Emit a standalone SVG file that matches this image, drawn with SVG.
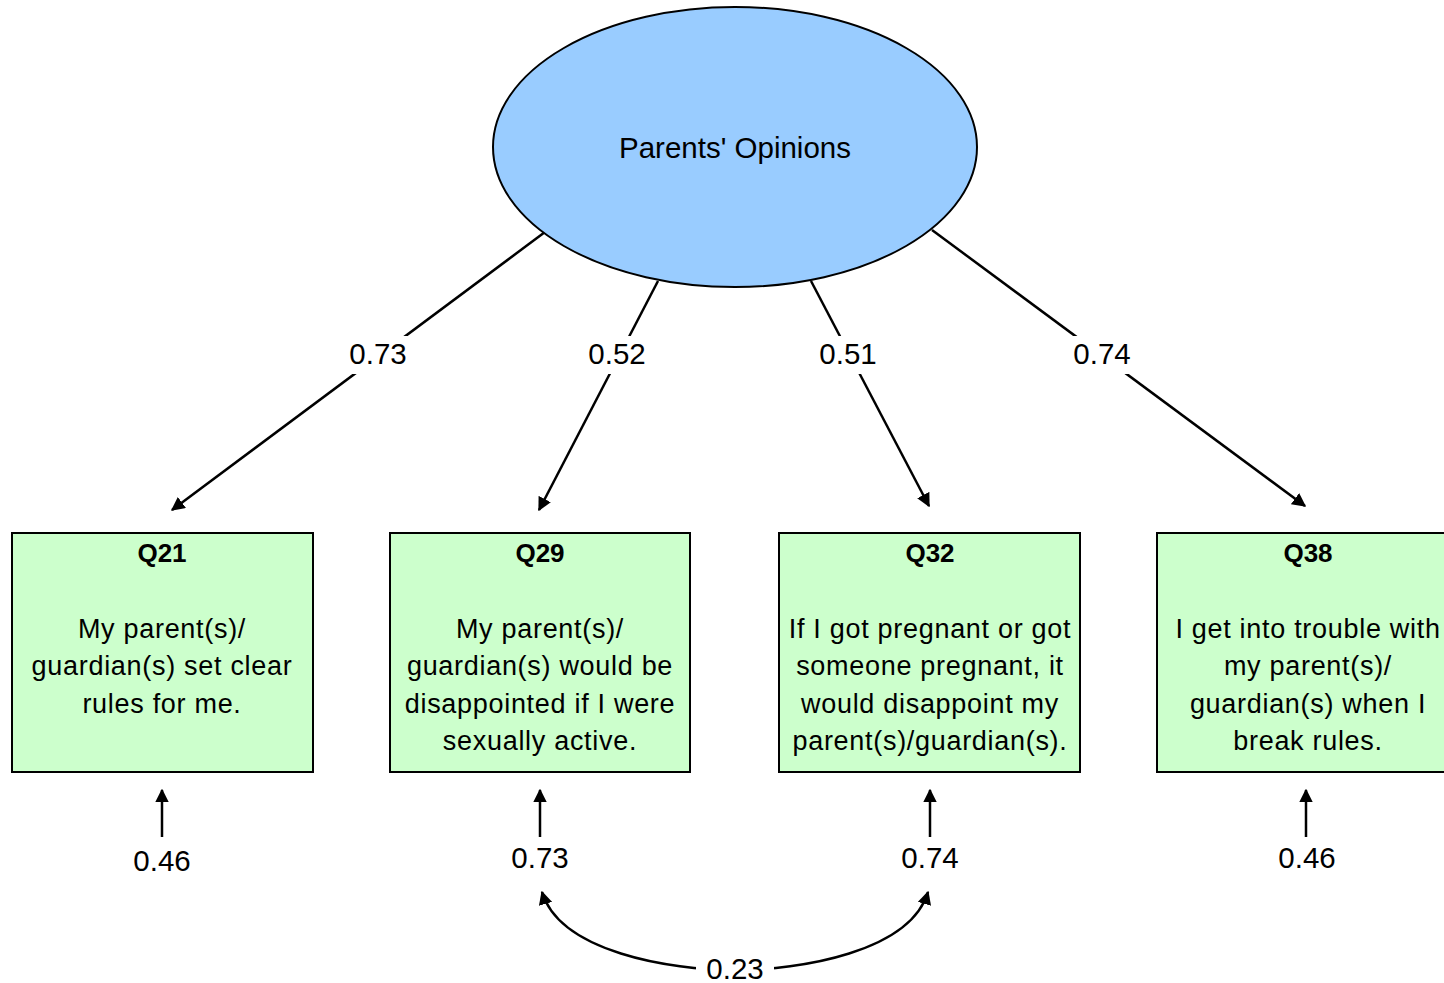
<svg xmlns="http://www.w3.org/2000/svg" width="1444" height="983" viewBox="0 0 1444 983">
<style>
text{font-family:"Liberation Sans",Arial,sans-serif;fill:#000;text-anchor:middle}
.box{fill:#ccffcc;stroke:#000;stroke-width:2}
.lat{fill:#99ccff;stroke:#000;stroke-width:2}
.t{font-size:27px;letter-spacing:0.7px}
.h{font-size:26px;font-weight:bold}
.lbl{font-size:29.5px}
.e{fill:none;stroke:#000;stroke-width:2.5}
.bg{fill:#fff}
</style>
<defs>
<marker id="ah" viewBox="0 0 10 10" refX="9" refY="5" markerWidth="5.5" markerHeight="5.5" orient="auto-start-reverse" markerUnits="strokeWidth">
<path d="M0,0 L10,5 L0,10 z" fill="#000"/>
</marker>
</defs>
<g id="connectors">
<path class="e" d="M545,232 L172,510" marker-end="url(#ah)"/>
<path class="e" d="M658,281 L539,510" marker-end="url(#ah)"/>
<path class="e" d="M811,281 L929,506" marker-end="url(#ah)"/>
<path class="e" d="M932,230 L1305,506" marker-end="url(#ah)"/>
<path class="e" d="M162,837 L162,790" marker-end="url(#ah)"/>
<path class="e" d="M540,837 L540,790" marker-end="url(#ah)"/>
<path class="e" d="M930,837 L930,790" marker-end="url(#ah)"/>
<path class="e" d="M1306,837 L1306,790" marker-end="url(#ah)"/>
<path class="e" d="M542,892 C560,952 670,970 735,970 C800,970 910,952 928,892" marker-start="url(#ah)" marker-end="url(#ah)"/>
<rect class="bg" x="344" y="336" width="68" height="38"/>
<text class="lbl" x="378" y="364">0.73</text>
<rect class="bg" x="583" y="336" width="68" height="38"/>
<text class="lbl" x="617" y="364">0.52</text>
<rect class="bg" x="814" y="336" width="68" height="38"/>
<text class="lbl" x="848" y="364">0.51</text>
<rect class="bg" x="1068" y="336" width="68" height="38"/>
<text class="lbl" x="1102" y="364">0.74</text>
<text class="lbl" x="162" y="871">0.46</text>
<text class="lbl" x="540" y="868">0.73</text>
<text class="lbl" x="930" y="868">0.74</text>
<text class="lbl" x="1307" y="868">0.46</text>
<rect class="bg" x="696" y="954" width="78" height="29"/>
<text class="lbl" x="735" y="979">0.23</text>
</g>
<g id="latent">
<ellipse class="lat" cx="735" cy="147" rx="242" ry="140"/>
<text class="lbl" x="735" y="158">Parents' Opinions</text>
</g>
<g id="Q21">
<rect class="box" x="12" y="533" width="301" height="239"/>
<text class="h" x="162" y="562">Q21</text>
<text class="t" x="162" y="638">My parent(s)/</text>
<text class="t" x="162" y="675">guardian(s) set clear</text>
<text class="t" x="162" y="713">rules for me.</text>
</g>
<g id="Q29">
<rect class="box" x="390" y="533" width="300" height="239"/>
<text class="h" x="540" y="562">Q29</text>
<text class="t" x="540" y="638">My parent(s)/</text>
<text class="t" x="540" y="675">guardian(s) would be</text>
<text class="t" x="540" y="713">disappointed if I were</text>
<text class="t" x="540" y="750">sexually active.</text>
</g>
<g id="Q32">
<rect class="box" x="779" y="533" width="301" height="239"/>
<text class="h" x="930" y="562">Q32</text>
<text class="t" x="930" y="638">If I got pregnant or got</text>
<text class="t" x="930" y="675">someone pregnant, it</text>
<text class="t" x="930" y="713">would disappoint my</text>
<text class="t" x="930" y="750">parent(s)/guardian(s).</text>
</g>
<g id="Q38">
<rect class="box" x="1157" y="533" width="300" height="239"/>
<text class="h" x="1308" y="562">Q38</text>
<text class="t" x="1308" y="638">I get into trouble with</text>
<text class="t" x="1308" y="675">my parent(s)/</text>
<text class="t" x="1308" y="713">guardian(s) when I</text>
<text class="t" x="1308" y="750">break rules.</text>
</g>
</svg>
